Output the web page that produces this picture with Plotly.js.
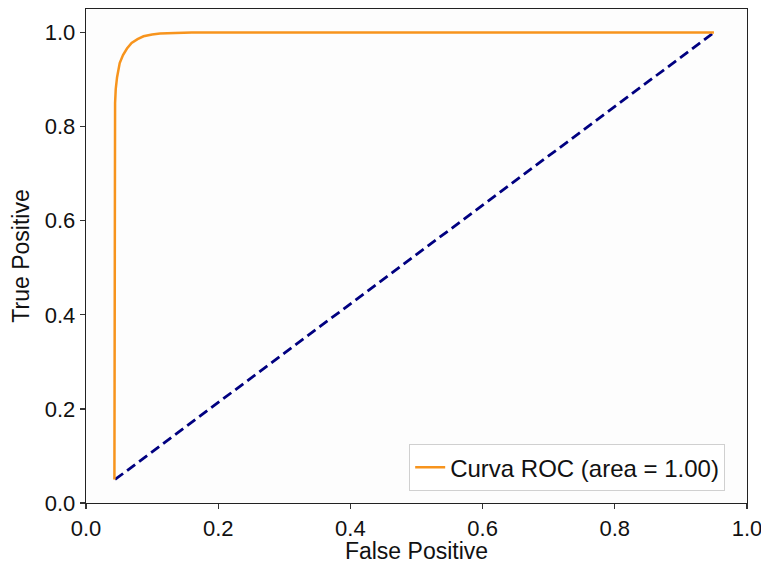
<!DOCTYPE html>
<html>
<head>
<meta charset="utf-8">
<script src="https://cdn.plot.ly/plotly-3.0.1.min.js"></script>
<style>html,body{margin:0;padding:0;background:#fff;}#chart{width:761px;height:564px;}</style>
</head>
<body>
<div id="chart"></div>
<script>
// ROC curve points
const rocFpr = [0.043, 0.043, 0.043, 0.044, 0.045, 0.047, 0.051, 0.056, 0.062, 0.069, 0.078, 0.087, 0.1, 0.112, 0.135, 0.16, 0.3, 0.5, 0.7, 0.95];
const rocTpr = [0.05, 0.4, 0.75, 0.85, 0.88, 0.905, 0.935, 0.952, 0.966, 0.978, 0.986, 0.992, 0.996, 0.998, 0.999, 1.0, 1.0, 1.0, 1.0, 1.0];
// Chance diagonal
const diagX = [0.044, 0.95];
const diagY = [0.05, 1.0];
const rocLabel = "Curva ROC (area = 1.00)";
const xTickVals = [0, 0.2, 0.4, 0.6, 0.8, 1.0];
const xTickText = ["0.0", "0.2", "0.4", "0.6", "0.8", "1.0"];
const yTickVals = [0, 0.2, 0.4, 0.6, 0.8, 1.0];
const yTickText = ["0.0", "0.2", "0.4", "0.6", "0.8", "1.0"];

const font = "Liberation Sans, Arial, Helvetica, sans-serif";

const traces = [
  {
    x: diagX, y: diagY, type: "scatter", mode: "lines",
    line: {color: "#000080", width: 2.8, dash: "10px,5px"},
    showlegend: false, hoverinfo: "skip"
  },
  {
    x: rocFpr, y: rocTpr, type: "scatter", mode: "lines",
    name: rocLabel,
    line: {color: "#f7941d", width: 2.5}
  }
];

const axisCommon = {
  showgrid: false, zeroline: false,
  showline: true, linecolor: "#222", linewidth: 1.3, mirror: true,
  ticks: "outside", ticklen: 5, tickwidth: 1.3, tickcolor: "#333",
  ticklabeloverflow: "allow",
  tickfont: {family: font, size: 22, color: "#111"}
};

const layout = {
  width: 761, height: 564,
  margin: {l: 86, r: 14, t: 9, b: 61},
  paper_bgcolor: "#ffffff",
  plot_bgcolor: "#fdfdfd",
  xaxis: Object.assign({}, axisCommon, {
    range: [0, 1.0],
    tickvals: xTickVals, ticktext: xTickText,
    title: {text: "False Positive", font: {family: font, size: 23, color: "#111"}, standoff: 2}
  }),
  yaxis: Object.assign({}, axisCommon, {
    range: [0, 1.05],
    tickvals: yTickVals, ticktext: yTickText,
    title: {text: "True Positive", font: {family: font, size: 23, color: "#111"}, standoff: 8}
  }),
  showlegend: true,
  legend: {
    x: 0.967, y: 0.024, xanchor: "right", yanchor: "bottom",
    bgcolor: "#ffffff", bordercolor: "#d0d0d0", borderwidth: 1,
    font: {family: font, size: 24, color: "#111"}
  }
};

Plotly.newPlot("chart", traces, layout, {staticPlot: true, displayModeBar: false});
</script>
</body>
</html>
